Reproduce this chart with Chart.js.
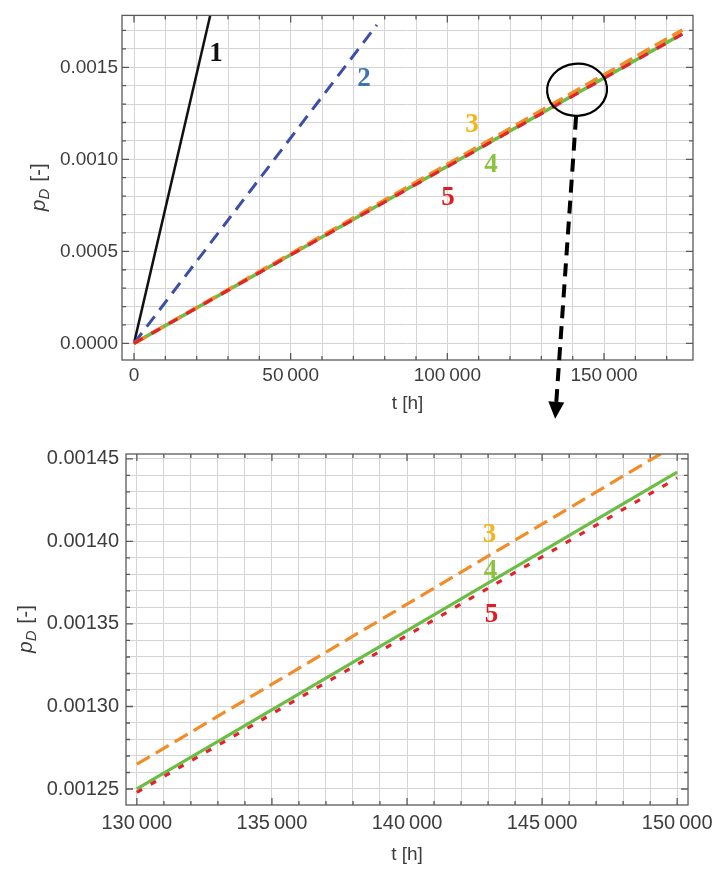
<!DOCTYPE html>
<html>
<head>
<meta charset="utf-8">
<script src="https://cdn.jsdelivr.net/npm/chart.js@4"></script>
<style>
  body { margin: 0; background: #fff; }
  #wrap { position: relative; width: 719px; height: 870px; }
  .panel { position: absolute; left: 0; width: 719px; }
  #topPanel { top: 0; height: 425px; }
  #zoomPanel { top: 425px; height: 445px; }
</style>
</head>
<body>
<div id="wrap">
  <div class="panel" id="topPanel"><canvas id="topChart"></canvas></div>
  <div class="panel" id="zoomPanel"><canvas id="zoomChart"></canvas></div>
</div>
<script>
// ---- values (t in hours, pD dimensionless) ----
// full range
const topT1 = [0, 24300];
const topP1 = [0, 0.00178];
const topT2 = [0, 77500];
const topP2 = [0, 0.00173];
const topT = [0, 50000, 100000, 150000, 175000];
const topP3 = [0, 0.000487, 0.000973, 0.00146, 0.001703];
const topP4 = [0, 0.000481, 0.000962, 0.001442, 0.001682];
const topP5 = [0, 0.00048, 0.00096, 0.00144, 0.00168];
const topXLabels = [0, 50000, 100000, 150000];
const topYLabels = [0, 0.0005, 0.001, 0.0015];

// zoom window 130 000 .. 150 000 h
const zoomT = [130000, 140000, 150000];
const zoomP3 = [0.001265, 0.001362, 0.001459];
const zoomP4 = [0.00125, 0.001346, 0.001442];
const zoomP5 = [0.001248, 0.001343, 0.0014385];
const zoomXLabels = [130000, 135000, 140000, 145000, 150000];
const zoomYLabels = [0.00125, 0.0013, 0.00135, 0.0014, 0.00145];

// curve numbers (data coordinates)
const topTags = [
  {text: '1', t: 26200, p: 0.001585, color: '#111111'},
  {text: '2', t: 73400, p: 0.001447, color: '#3f74ad'},
  {text: '3', t: 107900, p: 0.001197, color: '#f4b41a'},
  {text: '4', t: 113900, p: 0.000979, color: '#8ac43f'},
  {text: '5', t: 100200, p: 0.000803, color: '#e01b22'}
];
const zoomTags = [
  {text: '3', t: 143050, p: 0.001405, color: '#f4b41a'},
  {text: '4', t: 143090, p: 0.0013833, color: '#8ac43f'},
  {text: '5', t: 143125, p: 0.0013567, color: '#e01b22'}
];

// zoom marker on the top panel
const circleT = 141400, circleP = 0.001378;
const arrowT = 134400, arrowP = -0.00041;

const BLACK = '#111111', BLUE = '#3c4ea5', ORANGE = '#f28c28', GREEN = '#6abd45', RED = '#e3232c';
const gridColor = '#d4d4d4';
const tickColor = '#3d3d3d';
const family = '"Liberation Sans", Arial, sans-serif';

function pts(ts, ps) { return ts.map((t, i) => ({x: t, y: ps[i]})); }
function steps(from, to, step) {
  const out = [];
  const n = Math.round((to - from) / step);
  for (let i = 0; i <= n; i++) out.push(from + i * step);
  return out;
}
function isLabel(v, list, eps) { return list.some(l => Math.abs(l - v) < eps); }
function fmtT(v) { return String(Math.round(v)).replace(/\B(?=(\d{3})+(?!\d))/g, '\u2009'); }

function drawYTitle(ctx, cx, cy) {
  ctx.save();
  ctx.translate(cx, cy);
  ctx.rotate(-Math.PI / 2);
  const fMain = 'italic 21px ' + family;
  const fSub = 'italic 15px ' + family;
  const fRest = '21px ' + family;
  ctx.font = fMain; const w1 = ctx.measureText('p').width;
  ctx.font = fSub; const w2 = ctx.measureText('D').width;
  ctx.font = fRest; const w3 = ctx.measureText(' [-]').width;
  let x = -(w1 + w2 + w3) / 2;
  ctx.fillStyle = tickColor;
  ctx.textBaseline = 'alphabetic';
  ctx.font = fMain; ctx.fillText('p', x, 6); x += w1;
  ctx.font = fSub; ctx.fillText('D', x, 10); x += w2 + 1;
  ctx.font = fRest; ctx.fillText(' [-]', x, 6);
  ctx.restore();
}

// frame on four sides with inward ticks, y title and curve numbers
function panelPlugin(o) {
  return {
    id: 'panel',
    afterDraw(chart) {
      const {ctx, chartArea: a, scales: {x, y}} = chart;
      ctx.save();
      ctx.strokeStyle = '#5a5a5a';
      ctx.lineWidth = 1.3;
      ctx.strokeRect(a.left, a.top, a.right - a.left, a.bottom - a.top);
      ctx.beginPath();
      o.xGrid.forEach(v => {
        const px = x.getPixelForValue(v);
        const len = isLabel(v, o.xLabels, 1) ? 7 : 4;
        ctx.moveTo(px, a.bottom); ctx.lineTo(px, a.bottom - len);
        ctx.moveTo(px, a.top); ctx.lineTo(px, a.top + len);
      });
      o.yGrid.forEach(v => {
        const py = y.getPixelForValue(v);
        const len = isLabel(v, o.yLabels, 1e-9) ? 7 : 4;
        ctx.moveTo(a.left, py); ctx.lineTo(a.left + len, py);
        ctx.moveTo(a.right, py); ctx.lineTo(a.right - len, py);
      });
      ctx.stroke();
      ctx.restore();

      drawYTitle(ctx, o.titleX, (a.top + a.bottom) / 2);

      ctx.save();
      ctx.font = 'bold 27px "Liberation Serif", "Times New Roman", serif';
      ctx.textAlign = 'center';
      ctx.textBaseline = 'alphabetic';
      o.tags.forEach(tag => {
        ctx.fillStyle = tag.color;
        ctx.fillText(tag.text, x.getPixelForValue(tag.t), y.getPixelForValue(tag.p) + 9);
      });
      ctx.restore();
    }
  };
}

const calloutPlugin = {
  id: 'callout',
  afterDraw(chart) {
    const {ctx, scales: {x, y}} = chart;
    const cx = x.getPixelForValue(circleT), cy = y.getPixelForValue(circleP);
    ctx.save();
    ctx.strokeStyle = '#000';
    ctx.lineWidth = 2.2;
    ctx.beginPath();
    ctx.ellipse(cx, cy, 30, 26, -0.1, 0, Math.PI * 2);
    ctx.stroke();

    const ex = x.getPixelForValue(arrowT), ey = y.getPixelForValue(arrowP);
    const sx = cx - 1, sy = cy + 27;
    const ang = Math.atan2(ey - sy, ex - sx);
    const headLen = 17, headW = 8;
    const bx = ex - headLen * Math.cos(ang), by = ey - headLen * Math.sin(ang);
    ctx.lineWidth = 4;
    ctx.setLineDash([13, 8]);
    ctx.beginPath();
    ctx.moveTo(sx, sy);
    ctx.lineTo(bx, by);
    ctx.stroke();
    ctx.setLineDash([]);
    ctx.fillStyle = '#000';
    ctx.beginPath();
    ctx.moveTo(ex, ey);
    ctx.lineTo(bx + headW * Math.sin(ang), by - headW * Math.cos(ang));
    ctx.lineTo(bx - headW * Math.sin(ang), by + headW * Math.cos(ang));
    ctx.closePath();
    ctx.fill();
    ctx.restore();
  }
};

function makeOptions(o) {
  return {
    responsive: true,
    maintainAspectRatio: false,
    animation: false,
    layout: {padding: o.padding},
    plugins: {legend: {display: false}, tooltip: {enabled: false}},
    elements: {point: {radius: 0}, line: {tension: 0}},
    scales: {
      x: {
        type: 'linear', min: o.xMin, max: o.xMax,
        afterBuildTicks: s => { s.ticks = o.xGrid.map(v => ({value: v})); },
        afterFit: s => { s.height = o.xHeight; },
        grid: {color: gridColor, lineWidth: 1, drawTicks: false},
        border: {display: false},
        ticks: {
          autoSkip: false, maxRotation: 0, padding: o.xPad, color: tickColor,
          font: {family: family, size: o.fontSize},
          callback: v => isLabel(v, o.xLabels, 1) ? fmtT(v) : ''
        },
        title: {
          display: true, text: 't [h]', color: tickColor,
          font: {family: family, size: 19},
          padding: {top: 0, bottom: o.titlePad}
        }
      },
      y: {
        type: 'linear', min: o.yMin, max: o.yMax,
        afterBuildTicks: s => { s.ticks = o.yGrid.map(v => ({value: v})); },
        afterFit: s => { s.width = o.yWidth; },
        grid: {color: gridColor, lineWidth: 1, drawTicks: false},
        border: {display: false},
        ticks: {
          autoSkip: false, padding: o.yPad, color: tickColor,
          font: {family: family, size: o.fontSize},
          callback: v => isLabel(v, o.yLabels, 1e-9) ? v.toFixed(o.yDigits) : ''
        }
      }
    }
  };
}

const topCfg = {
  padding: {left: 0, top: 8, right: 26, bottom: 0},
  xMin: -3830, xMax: 178400, yMin: -0.0000904, yMax: 0.0017819,
  xGrid: steps(0, 170000, 10000), yGrid: steps(0, 0.0017, 0.0001),
  xLabels: topXLabels, yLabels: topYLabels, yDigits: 4,
  xHeight: 65, yWidth: 122, xPad: 4, yPad: 4, titlePad: 10, fontSize: 19,
  titleX: 39, tags: topTags
};

new Chart(document.getElementById('topChart'), {
  type: 'line',
  data: {
    datasets: [
      {data: pts(topT, topP5), borderColor: RED, borderWidth: 3.2, borderDash: [10, 10]},
      {data: pts(topT, topP3), borderColor: ORANGE, borderWidth: 3.5, borderDash: [14, 6]},
      {data: pts(topT, topP4), borderColor: GREEN, borderWidth: 3.5},
      {data: pts(topT2, topP2), borderColor: BLUE, borderWidth: 3, borderDash: [13, 8]},
      {data: pts(topT1, topP1), borderColor: BLACK, borderWidth: 2.5}
    ]
  },
  options: makeOptions(topCfg),
  plugins: [panelPlugin(topCfg), calloutPlugin]
});

const zoomCfg = {
  padding: {left: 0, top: 29, right: 24, bottom: 0},
  xMin: 129598, xMax: 150402, yMin: 0.0012403, yMax: 0.001453,
  xGrid: steps(130000, 150000, 1000), yGrid: steps(0.00125, 0.00145, 0.00001),
  xLabels: zoomXLabels, yLabels: zoomYLabels, yDigits: 5,
  xHeight: 65, yWidth: 126, xPad: 6, yPad: 7, titlePad: 4, fontSize: 20,
  titleX: 26, tags: zoomTags
};

new Chart(document.getElementById('zoomChart'), {
  type: 'line',
  data: {
    datasets: [
      {data: pts(zoomT, zoomP5), borderColor: RED, borderWidth: 3.2, borderDash: [6, 10]},
      {data: pts(zoomT, zoomP3), borderColor: ORANGE, borderWidth: 3.2, borderDash: [15, 7]},
      {data: pts(zoomT, zoomP4), borderColor: GREEN, borderWidth: 3.2}
    ]
  },
  options: makeOptions(zoomCfg),
  plugins: [panelPlugin(zoomCfg)]
});
</script>
</body>
</html>
